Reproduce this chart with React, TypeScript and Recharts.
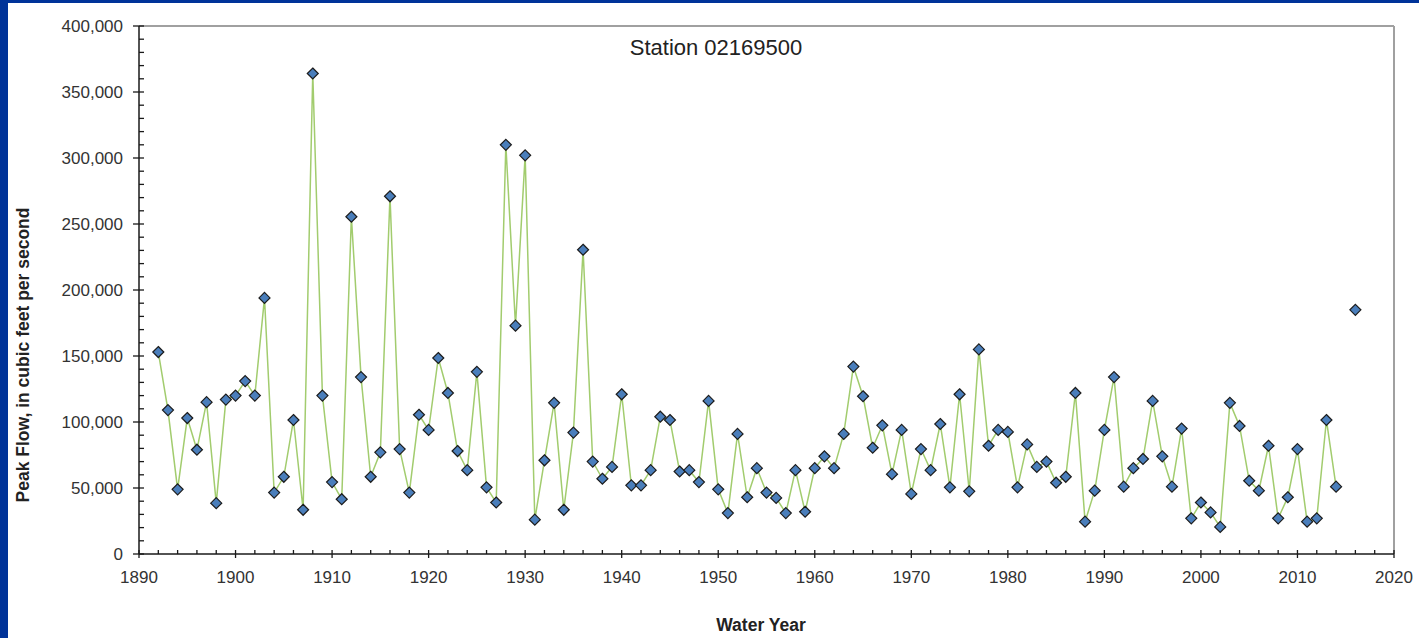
import { LineChart, Line, XAxis, YAxis, ReferenceLine } from 'recharts';

document.body.style.margin = '0';

// water years and annual peak flow (cfs); 2015 has no record
const years = [
  1892, 1893, 1894, 1895, 1896, 1897, 1898, 1899, 1900, 1901,
  1902, 1903, 1904, 1905, 1906, 1907, 1908, 1909, 1910, 1911,
  1912, 1913, 1914, 1915, 1916, 1917, 1918, 1919, 1920, 1921,
  1922, 1923, 1924, 1925, 1926, 1927, 1928, 1929, 1930, 1931,
  1932, 1933, 1934, 1935, 1936, 1937, 1938, 1939, 1940, 1941,
  1942, 1943, 1944, 1945, 1946, 1947, 1948, 1949, 1950, 1951,
  1952, 1953, 1954, 1955, 1956, 1957, 1958, 1959, 1960, 1961,
  1962, 1963, 1964, 1965, 1966, 1967, 1968, 1969, 1970, 1971,
  1972, 1973, 1974, 1975, 1976, 1977, 1978, 1979, 1980, 1981,
  1982, 1983, 1984, 1985, 1986, 1987, 1988, 1989, 1990, 1991,
  1992, 1993, 1994, 1995, 1996, 1997, 1998, 1999, 2000, 2001,
  2002, 2003, 2004, 2005, 2006, 2007, 2008, 2009, 2010, 2011,
  2012, 2013, 2014, 2015, 2016,
];

const peakFlow = [
  153000, 109000, 49000, 103000, 79000, 115000, 38500, 117000, 120000, 131000,
  120000, 194000, 46500, 58500, 101500, 33500, 364000, 120000, 54500, 41500,
  255500, 134000, 58500, 77000, 271000, 79500, 46500, 105500, 94000, 148500,
  122000, 78000, 63500, 138000, 50500, 39000, 310000, 173000, 302000, 26000,
  71000, 114500, 33500, 92000, 230500, 70000, 57000, 66000, 121000, 52000,
  52000, 63500, 104000, 101500, 62500, 63500, 54500, 116000, 49000, 31000,
  91000, 43000, 65000, 46500, 42500, 31000, 63500, 32000, 65000, 74000,
  65000, 91000, 142000, 119500, 80500, 97500, 60500, 94000, 45500, 79500,
  63500, 98500, 50500, 121000, 47500, 155000, 82000, 94000, 92500, 50500,
  83000, 66000, 70000, 54000, 58500, 122000, 24500, 48000, 94000, 134000,
  51000, 65000, 72000, 116000, 74000, 51000, 95000, 27000, 39000, 31500,
  20500, 114500, 97000, 55500, 48000, 82000, 27000, 43000, 79500, 24500,
  27000, 101500, 51000, null, 185000,
];

const xTicks = [
  1890, 1892, 1894, 1896, 1898, 1900, 1902, 1904, 1906, 1908,
  1910, 1912, 1914, 1916, 1918, 1920, 1922, 1924, 1926, 1928,
  1930, 1932, 1934, 1936, 1938, 1940, 1942, 1944, 1946, 1948,
  1950, 1952, 1954, 1956, 1958, 1960, 1962, 1964, 1966, 1968,
  1970, 1972, 1974, 1976, 1978, 1980, 1982, 1984, 1986, 1988,
  1990, 1992, 1994, 1996, 1998, 2000, 2002, 2004, 2006, 2008,
  2010, 2012, 2014, 2016, 2018, 2020,
];

const yTicks = [
  0, 10000, 20000, 30000, 40000, 50000, 60000, 70000, 80000, 90000,
  100000, 110000, 120000, 130000, 140000, 150000, 160000, 170000, 180000, 190000,
  200000, 210000, 220000, 230000, 240000, 250000, 260000, 270000, 280000, 290000,
  300000, 310000, 320000, 330000, 340000, 350000, 360000, 370000, 380000, 390000,
  400000,
];

const data = years.map((year, i) => ({ year, flow: peakFlow[i] }));

const FONT = '"Liberation Sans", Arial, sans-serif';
const AXIS = '#1a1a1a';
const LABEL = '#333333';

function XTick(props: any) {
  const { x, y, payload } = props;
  const major = payload.value % 10 === 0;
  return (
    <g>
      {major ? (
        <line x1={x} x2={x} y1={y - 4} y2={y + 4} stroke={AXIS} strokeWidth={1.3} />
      ) : (
        <line x1={x} x2={x} y1={y - 4} y2={y} stroke={AXIS} strokeWidth={1.3} />
      )}
      {major && (
        <text x={x} y={y + 23} textAnchor="middle" dominantBaseline="central"
          fontSize={17} fontFamily={FONT} fill={LABEL}>
          {payload.value}
        </text>
      )}
    </g>
  );
}

function YTick(props: any) {
  const { x, y, payload } = props;
  const major = payload.value % 50000 === 0;
  return (
    <g>
      {major ? (
        <line x1={x - 6} x2={x + 5} y1={y} y2={y} stroke={AXIS} strokeWidth={1.3} />
      ) : (
        <line x1={x} x2={x + 5} y1={y} y2={y} stroke={AXIS} strokeWidth={1.3} />
      )}
      {major && (
        <text x={x - 16} y={y} textAnchor="end" dominantBaseline="central"
          fontSize={17} fontFamily={FONT} fill={LABEL}>
          {payload.value.toLocaleString('en-US')}
        </text>
      )}
    </g>
  );
}

function Diamond(props: any) {
  const { cx, cy, index } = props;
  if (cx == null || cy == null || props.value == null) return <g key={`d-${index}`} />;
  const r = 5.5;
  return (
    <polygon
      key={`d-${index}`}
      points={`${cx},${cy - r} ${cx + r},${cy} ${cx},${cy + r} ${cx - r},${cy}`}
      fill="#4a7ebb"
      stroke="#1c1c1c"
      strokeWidth={1.2}
    />
  );
}

export default function App() {
  return (
    <div style={{ position: 'relative', width: 1419, height: 638, background: '#fff', overflow: 'hidden' }}>
      <LineChart
        width={1419}
        height={638}
        data={data}
        margin={{ top: 26, right: 25, left: 0, bottom: 0 }}
      >
        <XAxis
          dataKey="year"
          type="number"
          domain={[1890, 2020]}
          ticks={xTicks}
          interval={0}
          height={84}
          tickSize={0}
          tickMargin={0}
          tickLine={false}
          axisLine={{ stroke: AXIS, strokeWidth: 1.5 }}
          tick={<XTick />}
        />
        <YAxis
          type="number"
          domain={[0, 400000]}
          ticks={yTicks}
          interval={0}
          width={139}
          tickSize={0}
          tickMargin={0}
          tickLine={false}
          axisLine={{ stroke: AXIS, strokeWidth: 1.5 }}
          tick={<YTick />}
        />
        <ReferenceLine y={400000} stroke="#a0a0a0" strokeWidth={2} />
        <ReferenceLine x={2020} stroke="#a0a0a0" strokeWidth={2} />
        <Line
          dataKey="flow"
          type="linear"
          stroke="#a2cc6e"
          strokeWidth={1.5}
          connectNulls={false}
          dot={(p: any) => <Diamond {...p} key={`d-${p.index}`} />}
          activeDot={false}
          isAnimationActive={false}
        />
      </LineChart>

      <div style={{ position: 'absolute', left: 0, top: 0, width: 8, height: 638, background: '#003399' }} />
      <div style={{ position: 'absolute', left: 0, top: 0, width: 1419, height: 3, background: '#003399' }} />

      <div style={{
        position: 'absolute', left: 716, top: 48, transform: 'translate(-50%, -50%)',
        fontFamily: FONT, fontSize: 22, color: '#222', whiteSpace: 'nowrap',
      }}>
        Station 02169500
      </div>
      <div style={{
        position: 'absolute', left: 761, top: 625, transform: 'translate(-50%, -50%)',
        fontFamily: FONT, fontSize: 17.5, fontWeight: 'bold', color: '#222', whiteSpace: 'nowrap',
      }}>
        Water Year
      </div>
      <div style={{
        position: 'absolute', left: 23, top: 355, transform: 'translate(-50%, -50%) rotate(-90deg)',
        fontFamily: FONT, fontSize: 17.5, fontWeight: 'bold', color: '#222', whiteSpace: 'nowrap',
      }}>
        Peak Flow, in cubic feet per second
      </div>
    </div>
  );
}
